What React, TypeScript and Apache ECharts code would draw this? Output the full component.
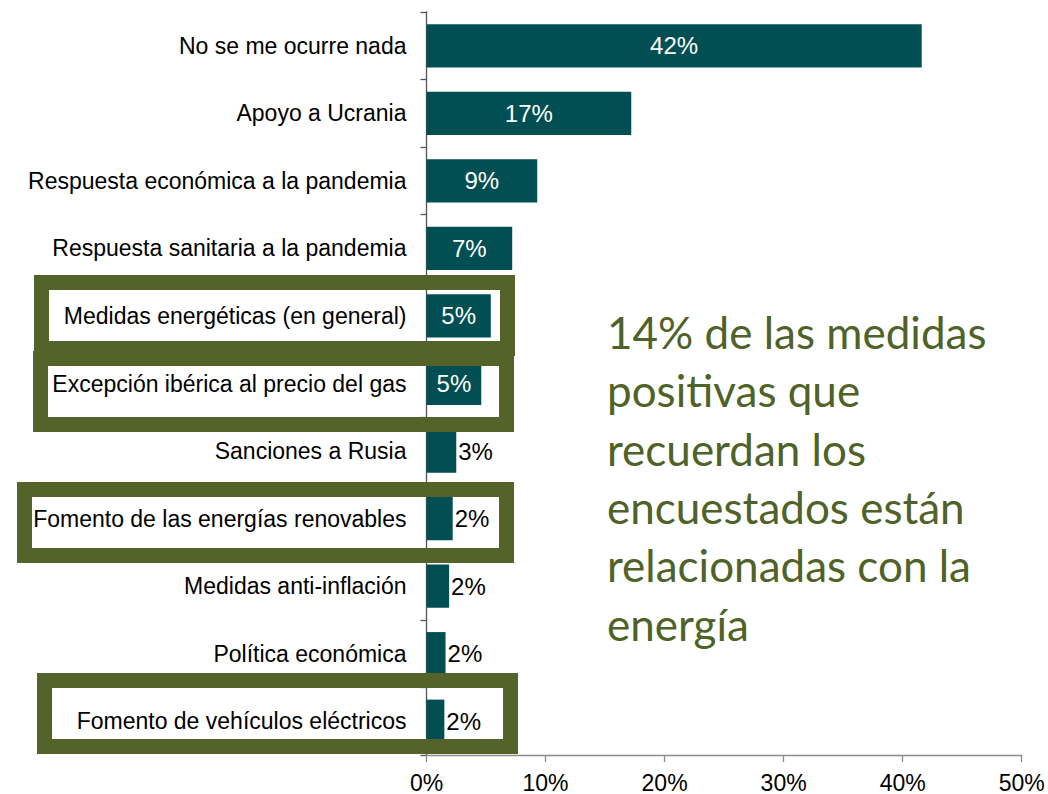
import React, { useEffect, useRef } from "react";
import * as echarts from "echarts";

const categories = [
  "No se me ocurre nada",
  "Apoyo a Ucrania",
  "Respuesta económica a la pandemia",
  "Respuesta sanitaria a la pandemia",
  "Medidas energéticas (en general)",
  "Excepción ibérica al precio del gas",
  "Sanciones a Rusia",
  "Fomento de las energías renovables",
  "Medidas anti-inflación",
  "Política económica",
  "Fomento de vehículos eléctricos",
];
const values = [41.6, 17.2, 9.3, 7.2, 5.4, 4.6, 2.5, 2.2, 1.9, 1.6, 1.5];
const axisMin = 0;
const axisMax = 50;
const axisInterval = 10;
const noteLines = [
  "14% de las medidas",
  "positivas que",
  "recuerdan los",
  "encuestados están",
  "relacionadas con la",
  "energía",
];
// highlighted categories (outer bounds of the frames)
const frames = [
  { l: 34, t: 275, r: 515, b: 356 },
  { l: 33, t: 351, r: 514, b: 432 },
  { l: 17, t: 482, r: 514, b: 563 },
  { l: 37, t: 673, r: 518, b: 754 },
];

const FONT = "'Liberation Sans', Arial, sans-serif";
const BAR = "#024f53";
const OLIVE = "#4f6228";
const FRAME = "#536329";

export default function App() {
  const ref = useRef<HTMLDivElement>(null);
  useEffect(() => {
    if (!ref.current) return;
    const chart = echarts.init(ref.current, undefined, { renderer: "svg" });
    const sw = 15;
    const data = values.map((v) => {
      const inside = v >= 4;
      return {
        value: v,
        label: inside
          ? { show: true, position: "inside", color: "#ffffff" }
          : { show: true, position: "right", color: "#000000", distance: 2 },
      };
    });
    chart.setOption({
      animation: false,
      backgroundColor: "#ffffff",
      textStyle: { fontFamily: FONT },
      grid: { left: 426.5, right: 26.3, top: 12, bottom: 39, containLabel: false },
      xAxis: {
        type: "value",
        min: axisMin,
        max: axisMax,
        interval: axisInterval,
        axisLine: { show: true, lineStyle: { color: "#8c8c8c", width: 1.3 } },
        axisTick: { show: true, length: 7, lineStyle: { color: "#8c8c8c", width: 1.3 } },
        splitLine: { show: false },
        axisLabel: {
          formatter: "{value}%",
          color: "#000000",
          fontSize: 23,
          fontFamily: FONT,
          margin: 16,
        },
      },
      yAxis: {
        type: "category",
        data: categories,
        inverse: true,
        axisLine: { show: true, lineStyle: { color: "#555555", width: 1.3 } },
        axisTick: { show: true, length: 6, lineStyle: { color: "#555555", width: 1.3 } },
        axisLabel: {
          color: "#000000",
          fontSize: 23,
          fontFamily: FONT,
          margin: 20,
        },
      },
      series: [
        {
          type: "bar",
          data,
          barCategoryGap: "36%",
          itemStyle: { color: BAR },
          label: {
            fontSize: 24,
            fontFamily: FONT,
            formatter: (p: any) => Math.round(p.value) + "%",
          },
          z: 2,
        },
      ],
      graphic: [
        ...frames.map((f) => ({
          type: "rect",
          z: 100,
          shape: {
            x: f.l + sw / 2,
            y: f.t + sw / 2,
            width: f.r - f.l - sw,
            height: f.b - f.t - sw,
            r: 0,
          },
          style: { fill: "none", stroke: FRAME, lineWidth: sw, lineJoin: "miter" },
        })),
        {
          type: "text",
          z: 100,
          left: 607,
          top: 303,
          style: {
            text: noteLines.join("\n"),
            fill: OLIVE,
            font: "44px Lato, 'Open Sans', sans-serif",
            lineHeight: 58.3,
          },
        },
      ],
    });
    return () => chart.dispose();
  }, []);
  return (
    <div
      ref={ref}
      style={{ position: "fixed", left: 0, top: 0, width: 1048, height: 794 }}
    />
  );
}
